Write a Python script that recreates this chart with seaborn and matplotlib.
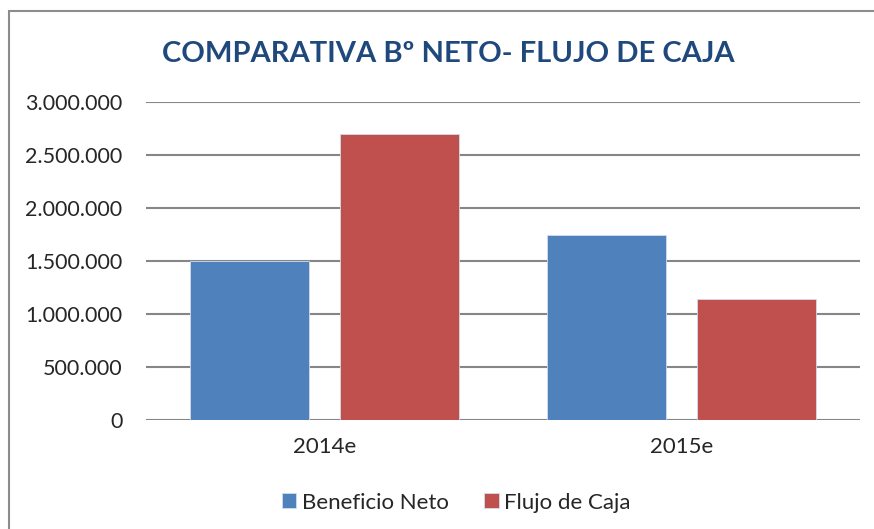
import pandas as pd
import seaborn as sns
import matplotlib.pyplot as plt
from matplotlib.patches import Rectangle
from matplotlib.ticker import FuncFormatter

# Datos
anios = ['2014e', '2015e']
beneficio_neto = [1500000, 1745000]
flujo_caja = [2700000, 1143000]
series = ['Beneficio Neto', 'Flujo de Caja']
colores = ['#4F81BD', '#C0504D']

df = pd.DataFrame({
    'Año': anios * 2,
    'Serie': [series[0]] * len(anios) + [series[1]] * len(anios),
    'Valor': beneficio_neto + flujo_caja,
})

sns.set_style('white')
plt.rcParams['font.family'] = ['Lato', 'DejaVu Sans']

fig = plt.figure(figsize=(8.74, 5.29), dpi=100)
ax = fig.add_axes([0.167, 0.206, 0.817, 0.601])

sns.barplot(data=df, x='Año', y='Valor', hue='Serie', palette=colores, saturation=1,
            width=0.837, gap=0.204, ax=ax, zorder=3, edgecolor='#D0DCEB', linewidth=0.6)

ax.set_ylim(0, 3000000)
ax.set_yticks(range(0, 3000001, 500000))
ax.yaxis.set_major_formatter(FuncFormatter(lambda v, p: f'{int(v):,}'.replace(',', '.')))
ax.grid(axis='y', color='#868686', linewidth=1.5, zorder=0)
ax.set_axisbelow(True)
for s in ax.spines.values():
    s.set_visible(False)
ax.tick_params(axis='y', length=0, pad=17, labelsize=15.5)
ax.tick_params(axis='x', length=0, pad=12, labelsize=16)
ax.set_xlabel('')
ax.set_ylabel('')

fig.text(0.513, 0.898, 'COMPARATIVA Bº NETO- FLUJO DE CAJA', ha='center', va='center',
         fontsize=21, fontweight='bold', color='#1F497D')

ax.legend(loc='center', ncol=2, frameon=False, fontsize=16, handlelength=0.65,
          handleheight=0.65, handletextpad=0.25, columnspacing=1.6)
ax.get_legend().set_bbox_to_anchor((0.522, 0.05), transform=fig.transFigure)

# Marco del gráfico
fig.patches.append(Rectangle((9 / 874, -0.1), 2, 1.1 - 11 / 529, transform=fig.transFigure,
                             fill=False, edgecolor='#8C8C8C', linewidth=1.5))

plt.savefig('out.png', dpi=100)
